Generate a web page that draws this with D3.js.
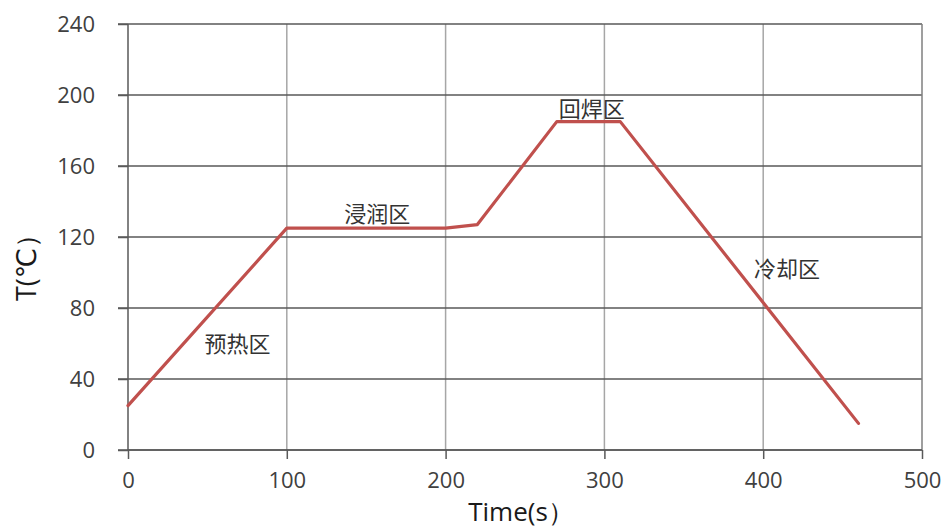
<!DOCTYPE html>
<html>
<head>
<meta charset="utf-8">
<script src="https://cdn.jsdelivr.net/npm/d3@7"></script>
<style>
html,body{margin:0;padding:0;background:#fff;}
svg{display:block;}
</style>
</head>
<body>
<svg id="chart" width="947" height="529"></svg>
<script>
const timeValues = [0, 100, 200, 220, 270, 310, 460];
const tempValues = [25, 125, 125, 127, 185, 185, 15];
const xTicks = [0, 100, 200, 300, 400, 500];
const yTicks = [0, 40, 80, 120, 160, 200, 240];
const zoneLabels = ["预热区", "浸润区", "回焊区", "冷却区"];
const zoneX = [69, 157, 292, 415];
const zoneY = [61, 134, 193, 103];

const svg = d3.select("#chart");
const margin = {left:128, top:24, right:25, bottom:79};
const W = 947, H = 529;
const x = d3.scaleLinear().domain([0,500]).range([margin.left, W - margin.right]);
const y = d3.scaleLinear().domain([0,240]).range([H - margin.bottom, margin.top]);
const numFont = "'Open Sans', 'DejaVu Sans', sans-serif";
const cjkFont = "'Noto Sans CJK SC', sans-serif";

// vertical grid
svg.append("g").selectAll("line").data(xTicks.slice(1,-1)).join("line")
  .attr("x1", d=>x(d)).attr("x2", d=>x(d))
  .attr("y1", y(240)).attr("y2", y(0))
  .attr("stroke", "#a6a6a6").attr("stroke-width", 1.5);

// horizontal grid
svg.append("g").selectAll("line").data(yTicks).join("line")
  .attr("x1", x(0) - 10).attr("x2", x(500))
  .attr("y1", d=>y(d)).attr("y2", d=>y(d))
  .attr("stroke", "#595959").attr("stroke-width", 1.5);

// right border
svg.append("line").attr("x1", x(500)).attr("x2", x(500)).attr("y1", y(240)).attr("y2", y(0))
  .attr("stroke", "#7f7f7f").attr("stroke-width", 1.5);

// axes
const xAxis = svg.append("g").attr("transform", `translate(0,${y(0)})`)
  .call(d3.axisBottom(x).tickValues(xTicks).tickSize(9).tickPadding(13));
const yAxis = svg.append("g").attr("transform", `translate(${x(0)},0)`)
  .call(d3.axisLeft(y).tickValues(yTicks).tickSize(10).tickPadding(23));
[xAxis, yAxis].forEach(g => {
  g.select(".domain").attr("stroke", "#595959").attr("stroke-width", 1.5);
  g.selectAll(".tick line").attr("stroke", "#595959").attr("stroke-width", 1.5);
  g.selectAll(".tick text").attr("fill", "#404040").style("font-family", numFont).style("font-size", "22px");
});
yAxis.select(".domain").attr("d", `M0,${y(240)}V${y(0)}`);
xAxis.select(".domain").attr("d", `M${x(0)},0H${x(500)}`);

// line
const line = d3.line().x(d=>x(d[0])).y(d=>y(d[1]));
svg.append("path")
  .datum(timeValues.map((t,i)=>[t, tempValues[i]]))
  .attr("d", line)
  .attr("fill", "none")
  .attr("stroke", "#c0504d")
  .attr("stroke-width", 3.2)
  .attr("stroke-linejoin", "round")
  .attr("stroke-linecap", "round");

// zone labels
svg.append("g").selectAll("text").data(zoneLabels).join("text")
  .attr("x", (d,i)=>x(zoneX[i])).attr("y", (d,i)=>y(zoneY[i]))
  .attr("text-anchor", "middle").attr("dominant-baseline", "central")
  .attr("fill", "#333")
  .style("font-family", cjkFont).style("font-size", "22px")
  .text(d=>d);

// axis titles
svg.append("text").attr("x", 521).attr("y", 521)
  .attr("text-anchor", "middle").attr("fill", "#1a1a1a")
  .style("font-family", numFont).style("font-size", "26px")
  .text("Time(s）");
svg.append("text").attr("transform", "translate(36,261) rotate(-90)")
  .attr("text-anchor", "middle").attr("fill", "#1a1a1a")
  .style("font-family", numFont).style("font-size", "27px")
  .text("T(℃）");
</script>
</body>
</html>
